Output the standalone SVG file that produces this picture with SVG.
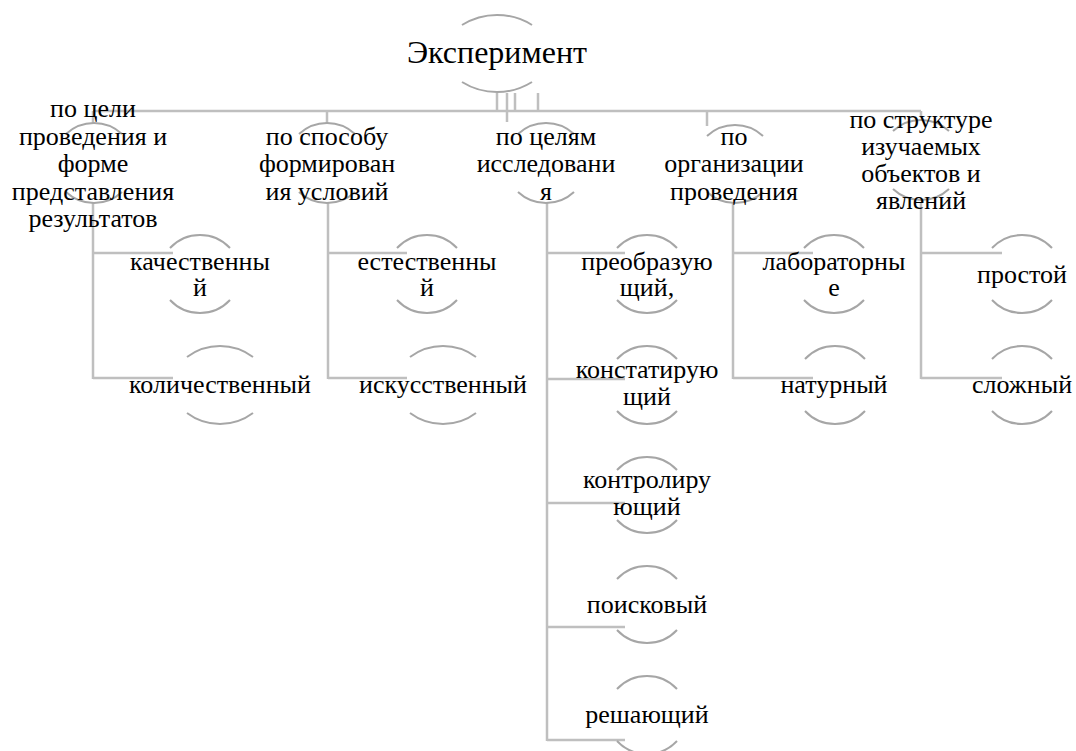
<svg xmlns="http://www.w3.org/2000/svg" width="1076" height="751" viewBox="0 0 1076 751">
<style>
.c{stroke:#bfbfbf;stroke-width:2.5;fill:none}
.a{stroke:#a6a6a6;stroke-width:2;fill:none}
text{font-family:"Liberation Serif","Times New Roman",serif;font-size:26px;fill:#000;text-anchor:middle}
text.r{font-size:32px}
</style>
<defs>
<path id="at" class="a" d="M-30,13 A41.1,41.1 0 0 1 30,13"/>
<path id="ab" class="a" d="M-30,-13 A41.1,41.1 0 0 0 30,-13"/>
<path id="wt" class="a" d="M-33,11 A55,55 0 0 1 33,11"/>
<path id="wb" class="a" d="M-33,-11 A55,55 0 0 0 33,-11"/>
<path id="lt" class="a" d="M-28,11 A41.1,41.1 0 0 1 28,11"/>
<path id="lb" class="a" d="M-28,-11 A41.1,41.1 0 0 0 28,-11"/>
</defs>
<rect width="1076" height="751" fill="#fff"/>
<g id="connectors">
<path class="c" d="M93,111 H921 M93,111 V123 M327,111 V123 M707,111 V126 M921,111 V116 M497,93 V111 M507,93 V122 M515,93 V111 M538,93 V111"/>
<path class="c" d="M93,203 V379 M93,253 H173 M93,378 H173"/>
<path class="c" d="M328,203 V379 M328,253 H407 M328,378 H407"/>
<path class="c" d="M547,203 V741 M547,253 H625 M547,379 H625 M547,503 H625 M547,627 H625 M547,740 H625"/>
<path class="c" d="M733,203 V379 M733,253 H813 M733,378 H813"/>
<path class="c" d="M921,203 V379 M921,253 H1002 M921,378 H1002"/>
</g>
<g id="root">
<path class="a" d="M462,25 A66,66 0 0 1 532,25"/>
<path class="a" d="M462,82 A66,66 0 0 0 532,82"/>
<text class="r" x="497" y="63">Эксперимент</text>
</g>
<g id="n1">
<use href="#lt" x="94" y="123"/><use href="#lb" x="94" y="203"/>
<text x="93" y="117">по цели</text>
<text x="93" y="145">проведения и</text>
<text x="93" y="172">форме</text>
<text x="93" y="200">представления</text>
<text x="93" y="227">результатов</text>
</g>
<g id="n2">
<use href="#lt" x="327" y="123"/><use href="#lb" x="327" y="203"/>
<text x="327" y="145">по способу</text>
<text x="327" y="172">формирован</text>
<text x="327" y="200">ия условий</text>
</g>
<g id="n3">
<use href="#lt" x="546" y="123"/><use href="#lb" x="546" y="203"/>
<text x="546" y="145">по целям</text>
<text x="546" y="172">исследовани</text>
<text x="546" y="200">я</text>
</g>
<g id="n4">
<use href="#lt" x="735" y="125"/><use href="#lb" x="735" y="203"/>
<text x="734" y="145">по</text>
<text x="734" y="172">организации</text>
<text x="734" y="200">проведения</text>
</g>
<g id="n5">
<use href="#lt" x="921" y="120"/><use href="#lb" x="921" y="200"/>
<text x="921" y="128">по структуре</text>
<text x="921" y="155">изучаемых</text>
<text x="921" y="182">объектов и</text>
<text x="921" y="209">явлений</text>
</g>
<g id="n1a">
<use href="#at" x="200" y="235"/><use href="#ab" x="200" y="313"/>
<text x="200" y="270">качественны</text>
<text x="200" y="296">й</text>
</g>
<g id="n1b">
<use href="#wt" x="220" y="346"/><use href="#wb" x="220" y="424"/>
<text x="220" y="393">количественный</text>
</g>
<g id="n2a">
<use href="#at" x="427" y="235"/><use href="#ab" x="427" y="313"/>
<text x="427" y="270">естественны</text>
<text x="427" y="296">й</text>
</g>
<g id="n2b">
<use href="#wt" x="443" y="346"/><use href="#wb" x="443" y="424"/>
<text x="443" y="393">искусственный</text>
</g>
<g id="n3a">
<use href="#at" x="647" y="235"/><use href="#ab" x="647" y="313"/>
<text x="647" y="270">преобразую</text>
<text x="647" y="296">щий,</text>
</g>
<g id="n3b">
<use href="#at" x="647" y="346"/><use href="#ab" x="647" y="424"/>
<text x="647" y="378">констатирую</text>
<text x="647" y="405">щий</text>
</g>
<g id="n3c">
<use href="#at" x="647" y="457"/><use href="#ab" x="647" y="533"/>
<text x="647" y="488">контролиру</text>
<text x="647" y="515">ющий</text>
</g>
<g id="n3d">
<use href="#at" x="647" y="566"/><use href="#ab" x="647" y="643"/>
<text x="647" y="613">поисковый</text>
</g>
<g id="n3e">
<use href="#at" x="647" y="676"/><use href="#ab" x="647" y="754"/>
<text x="647" y="723">решающий</text>
</g>
<g id="n4a">
<use href="#at" x="834" y="235"/><use href="#ab" x="834" y="313"/>
<text x="834" y="270">лабораторны</text>
<text x="834" y="296">е</text>
</g>
<g id="n4b">
<use href="#at" x="835" y="346"/><use href="#ab" x="835" y="424"/>
<text x="834" y="393">натурный</text>
</g>
<g id="n5a">
<use href="#at" x="1022" y="235"/><use href="#ab" x="1022" y="313"/>
<text x="1022" y="283">простой</text>
</g>
<g id="n5b">
<use href="#at" x="1022" y="346"/><use href="#ab" x="1022" y="424"/>
<text x="1022" y="393">сложный</text>
</g>
</svg>
